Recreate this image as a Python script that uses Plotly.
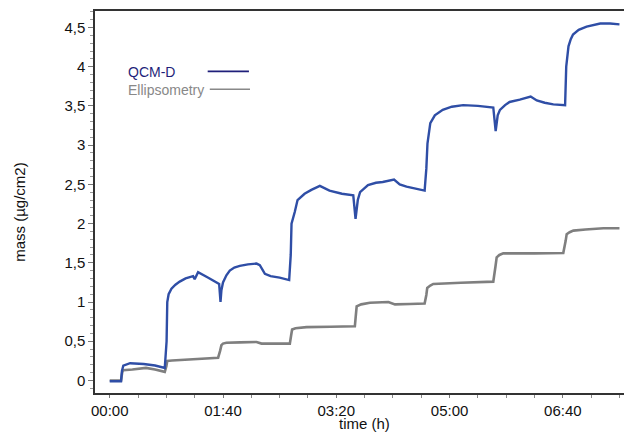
import plotly.graph_objects as go

# time in minutes, mass in µg/cm2
qcm_t = [0, 10, 10.8, 12, 18, 30, 40, 48.6, 50.2, 50.8, 52, 54.5, 58, 61.8, 67, 73.6, 75, 76, 78,
         87, 96.6, 97.8, 98.6, 100, 103, 106, 110, 114.8, 122, 129.6, 132.5, 137, 142, 150, 158.4,
         159.8, 160.5, 163.4, 165.8, 172, 178, 185.5, 194, 205, 215, 217, 219, 221, 228, 235, 241,
         251, 256, 262, 268, 278, 279.5, 280.5, 283, 287, 294, 302, 312, 325, 338.6, 340.7, 342.5,
         344.5, 349, 353, 362, 371.6, 377, 384, 391.6, 402, 403, 405, 407, 409, 414, 421, 433,
         441.7, 450]
qcm_m = [-0.01, -0.01, 0.12, 0.19, 0.22, 0.21, 0.19, 0.16, 0.5, 1.0, 1.1, 1.17, 1.22, 1.26, 1.3,
         1.33, 1.29, 1.32, 1.38, 1.31, 1.23, 1.0, 1.15, 1.25, 1.34, 1.4, 1.44, 1.46, 1.48, 1.49,
         1.47, 1.36, 1.33, 1.31, 1.28, 1.6, 2.0, 2.15, 2.3, 2.38, 2.43, 2.48, 2.42, 2.38, 2.36,
         2.06, 2.3, 2.4, 2.49, 2.52, 2.53, 2.56, 2.5, 2.47, 2.45, 2.42, 2.7, 3.02, 3.28, 3.38, 3.45,
         3.49, 3.51, 3.5, 3.48, 3.18, 3.38, 3.45, 3.51, 3.55, 3.58, 3.62, 3.57, 3.54, 3.52, 3.51,
         4.0, 4.26, 4.35, 4.41, 4.47, 4.51, 4.55, 4.55, 4.54]

ell_t = [0, 10, 11, 11.8, 20, 32, 40, 48.6, 50, 50.8, 55, 62, 80, 95.7, 97.5, 98.6, 100, 103, 115,
         129.6, 134, 145, 159, 160.2, 161, 164, 173.7, 195, 216.4, 217.2, 218, 222, 229.7, 246,
         251.8, 265, 278, 279.5, 280.3, 283, 285.6, 310, 338.6, 340.5, 341.6, 344, 347.4, 375,
         400.4, 402.5, 403.4, 406, 409.3, 420, 435.8, 450]
ell_m = [0.0, 0.0, 0.1, 0.13, 0.14, 0.16, 0.14, 0.11, 0.18, 0.25, 0.255, 0.26, 0.27, 0.29, 0.38,
         0.45, 0.47, 0.48, 0.485, 0.49, 0.47, 0.47, 0.47, 0.58, 0.65, 0.665, 0.68, 0.685, 0.69, 0.82,
         0.945, 0.97, 0.99, 1.0, 0.97, 0.975, 0.98, 1.09, 1.18, 1.21, 1.23, 1.245, 1.26, 1.45, 1.57,
         1.6, 1.62, 1.62, 1.625, 1.78, 1.865, 1.89, 1.91, 1.925, 1.94, 1.94]

x_tickvals = [0, 100, 200, 300, 400]
x_ticktext = ["00:00", "01:40", "03:20", "05:00", "06:40"]
y_tickvals = [0, 0.5, 1, 1.5, 2, 2.5, 3, 3.5, 4, 4.5]
y_ticktext = ["0", "0,5", "1", "1,5", "2", "2,5", "3", "3,5", "4", "4,5"]

FONT = "Liberation Sans, Arial, sans-serif"

fig = go.Figure()
fig.add_trace(go.Scatter(x=ell_t, y=ell_m, mode="lines", name="Ellipsometry",
                         line=dict(color="#7f7f7f", width=2.6)))
fig.add_trace(go.Scatter(x=qcm_t, y=qcm_m, mode="lines", name="QCM-D",
                         line=dict(color="#2f4ea6", width=2.4)))

fig.update_layout(
    width=624, height=432,
    margin=dict(l=95, r=0, t=11, b=39),
    paper_bgcolor="white", plot_bgcolor="white",
    showlegend=False,
    font=dict(family=FONT, size=15, color="#111111"),
    xaxis=dict(
        range=[-13, 454], tickvals=x_tickvals, ticktext=x_ticktext, automargin=False,
        showgrid=False, zeroline=False, showline=True, linecolor="#333333", linewidth=1.5,
        mirror=True, ticks="outside", ticklen=3, tickcolor="#777777",
        minor=dict(dtick=25, tick0=0, ticks="outside", ticklen=3, tickcolor="#888888"),
        tickfont=dict(size=15),
    ),
    yaxis=dict(
        range=[-0.16, 4.71], tickvals=y_tickvals, ticktext=y_ticktext, automargin=False,
        showgrid=False, zeroline=False, showline=True, linecolor="#333333", linewidth=1.5,
        ticks="outside", ticklen=5, tickcolor="#777777",
        minor=dict(dtick=0.1, tick0=0, ticks="outside", ticklen=3, tickcolor="#999999"),
        tickfont=dict(size=15),
    ),
)

# axis titles
fig.add_annotation(xref="paper", yref="paper", x=0.509, y=-0.081, xanchor="center", yanchor="middle",
                   text="time (h)", showarrow=False, font=dict(size=15, family=FONT, color="#111111"))
fig.add_annotation(xref="paper", yref="paper", x=-0.142, y=0.474, xanchor="center", yanchor="middle",
                   text="mass (µg/cm2)", textangle=-90, showarrow=False,
                   font=dict(size=15, family=FONT, color="#111111"))

# custom legend: text followed by line sample
fig.add_annotation(xref="paper", yref="paper", x=0.058, y=0.84, xanchor="left", yanchor="middle",
                   text="QCM-D", showarrow=False, font=dict(color="#1f1f7a", size=14, family=FONT))
fig.add_annotation(xref="paper", yref="paper", x=0.058, y=0.793, xanchor="left", yanchor="middle",
                   text="Ellipsometry", showarrow=False, font=dict(color="#888888", size=14, family=FONT))
fig.add_shape(type="line", xref="paper", yref="paper", x0=0.213, x1=0.291, y0=0.842, y1=0.842,
              line=dict(color="#1f1f7a", width=1.6))
fig.add_shape(type="line", xref="paper", yref="paper", x0=0.217, x1=0.293, y0=0.795, y1=0.795,
              line=dict(color="#888888", width=1.6))

fig.write_html("out.html", config={"displayModeBar": False},
               post_script="document.body.style.margin='0';")
